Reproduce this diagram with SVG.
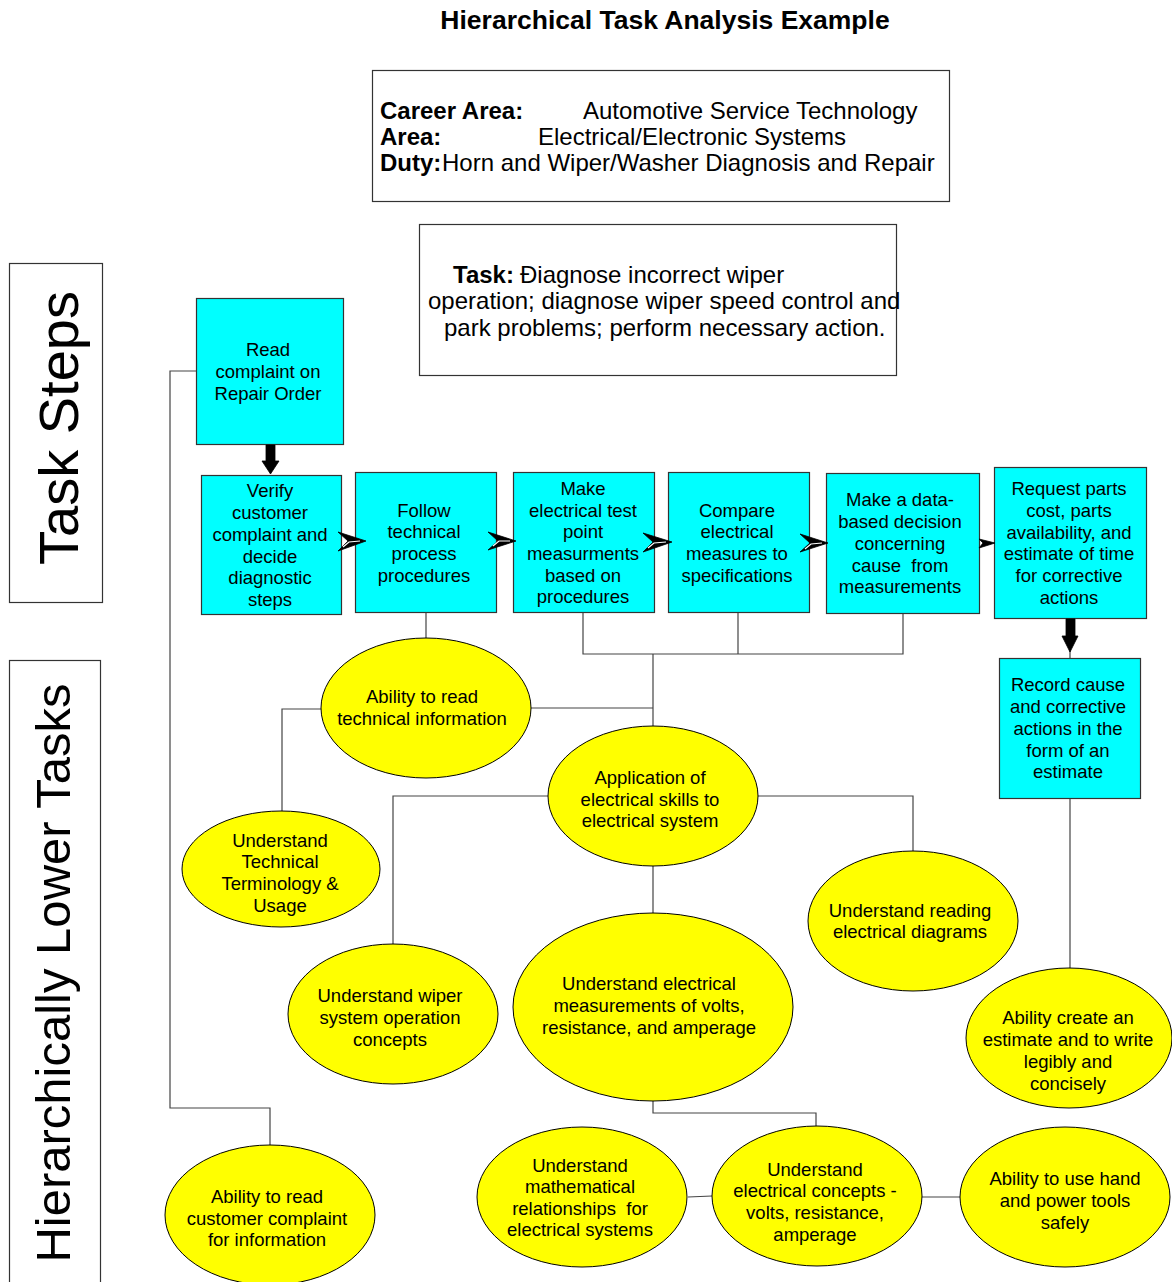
<svg xmlns="http://www.w3.org/2000/svg" width="1172" height="1282" viewBox="0 0 1172 1282">
<style>
text{font-family:"Liberation Sans",Arial,sans-serif;fill:#000}
.t{font-size:18.5px;text-anchor:middle}
.h{font-size:24px}
.b{font-weight:bold}
.box{fill:#00FFFF;stroke:#333;stroke-width:1.2}
.ell{fill:#FFFF00;stroke:#000;stroke-width:1}
.frame{fill:#fff;stroke:#333;stroke-width:1.2}
.con{fill:none;stroke:#444;stroke-width:1.2}
.arr{fill:#000;stroke:#000;stroke-width:0.8}
.hl{fill:none;stroke:#fff;stroke-width:1.2}
</style>
<rect width="1172" height="1282" fill="#fff"/>
<text x="665" y="29" text-anchor="middle" font-size="26.5" font-weight="bold">Hierarchical Task Analysis Example</text>

<g id="header">
<rect class="frame" x="372.5" y="70.5" width="577" height="131"/>
<text class="h b" x="380" y="119">Career Area:</text>
<text class="h" x="583" y="119">Automotive Service Technology</text>
<text class="h b" x="380" y="145">Area:</text>
<text class="h" x="538" y="145">Electrical/Electronic Systems</text>
<text class="h b" x="380" y="171">Duty:</text>
<text class="h" x="442" y="171">Horn and Wiper/Washer Diagnosis and Repair</text>
</g>

<g id="task">
<rect class="frame" x="419.5" y="224.5" width="477" height="151"/>
<text class="h b" x="453" y="283">Task:</text>
<text class="h" x="520" y="283">Điagnose incorrect wiper</text>
<text class="h" x="428" y="309">operation; diagnose wiper speed control and</text>
<text class="h" x="444" y="336">park problems; perform necessary action.</text>
</g>

<g id="label-steps">
<rect class="frame" x="9.5" y="263.5" width="93" height="339"/>
<text x="78" y="428" font-size="56" text-anchor="middle" transform="rotate(-90 78 428)">Task Steps</text>
</g>
<g id="label-lower">
<rect class="frame" x="9.5" y="660.5" width="91" height="630"/>
<text x="70" y="973" font-size="49" text-anchor="middle" transform="rotate(-90 70 973)">Hierarchically Lower Tasks</text>
</g>

<g id="connectors">
<path class="con" d="M196,371 H170 V1108 H270 V1145"/>
<path class="con" d="M426,612 V638"/>
<path class="con" d="M583,612 V654 H903 V613"/>
<path class="con" d="M738,612 V654"/>
<path class="con" d="M653,654 V726"/>
<path class="con" d="M531,708 H653"/>
<path class="con" d="M321,709 H282 V811"/>
<path class="con" d="M548,796 H393 V944"/>
<path class="con" d="M758,796 H913 V851"/>
<path class="con" d="M653,866 V913"/>
<path class="con" d="M653,1101 V1113 H816 V1126"/>
<path class="con" d="M688,1197 L712,1196"/>
<path class="con" d="M922,1197 H960"/>
<path class="con" d="M1070,798 V968"/>
<path class="con" d="M1070,650 V658"/>
</g>

<g id="n-read"><rect class="box" x="196.5" y="298.5" width="147" height="146"/>
<text class="t" x="268" y="356">Read</text><text class="t" x="268" y="378">complaint on</text><text class="t" x="268" y="400">Repair Order</text></g>

<g id="n-verify"><rect class="box" x="201.5" y="475.5" width="140" height="139"/>
<text class="t" x="270" y="497">Verify</text><text class="t" x="270" y="519">customer</text><text class="t" x="270" y="541">complaint and</text><text class="t" x="270" y="563">decide</text><text class="t" x="270" y="584">diagnostic</text><text class="t" x="270" y="606">steps</text></g>

<g id="n-follow"><rect class="box" x="355.5" y="472.5" width="141" height="140"/>
<text class="t" x="424" y="517">Follow</text><text class="t" x="424" y="538">technical</text><text class="t" x="424" y="560">process</text><text class="t" x="424" y="582">procedures</text></g>

<g id="n-make"><rect class="box" x="513.5" y="472.5" width="141" height="140"/>
<text class="t" x="583" y="495">Make</text><text class="t" x="583" y="517">electrical test</text><text class="t" x="583" y="538">point</text><text class="t" x="583" y="560">measurments</text><text class="t" x="583" y="582">based on</text><text class="t" x="583" y="603">procedures</text></g>

<g id="n-compare"><rect class="box" x="668.5" y="472.5" width="141" height="140"/>
<text class="t" x="737" y="517">Compare</text><text class="t" x="737" y="538">electrical</text><text class="t" x="737" y="560">measures to</text><text class="t" x="737" y="582">specifications</text></g>

<g id="n-decide"><rect class="box" x="826.5" y="473.5" width="153" height="140"/>
<text class="t" x="900" y="506">Make a data-</text><text class="t" x="900" y="528">based decision</text><text class="t" x="900" y="550">concerning</text><text class="t" x="900" y="572" xml:space="preserve">cause  from</text><text class="t" x="900" y="593">measurements</text></g>

<g id="n-request"><rect class="box" x="994.5" y="467.5" width="152" height="151"/>
<text class="t" x="1069" y="495">Request parts</text><text class="t" x="1069" y="517">cost, parts</text><text class="t" x="1069" y="539">availability, and</text><text class="t" x="1069" y="560">estimate of time</text><text class="t" x="1069" y="582">for corrective</text><text class="t" x="1069" y="604">actions</text></g>

<g id="n-record"><rect class="box" x="999.5" y="658.5" width="141" height="140"/>
<text class="t" x="1068" y="691">Record cause</text><text class="t" x="1068" y="713">and corrective</text><text class="t" x="1068" y="735">actions in the</text><text class="t" x="1068" y="757">form of an</text><text class="t" x="1068" y="778">estimate</text></g>

<g id="e-techinfo"><ellipse class="ell" cx="426" cy="708" rx="105" ry="70"/>
<text class="t" x="422" y="703">Ability to read</text><text class="t" x="422" y="725">technical information</text></g>

<g id="e-terminology"><ellipse class="ell" cx="281" cy="869" rx="99" ry="58"/>
<text class="t" x="280" y="847">Understand</text><text class="t" x="280" y="868">Technical</text><text class="t" x="280" y="890">Terminology &amp;</text><text class="t" x="280" y="912">Usage</text></g>

<g id="e-application"><ellipse class="ell" cx="653" cy="796" rx="105" ry="70"/>
<text class="t" x="650" y="784">Application of</text><text class="t" x="650" y="806">electrical skills to</text><text class="t" x="650" y="827">electrical system</text></g>

<g id="e-diagrams"><ellipse class="ell" cx="913" cy="921" rx="105" ry="70"/>
<text class="t" x="910" y="917">Understand reading</text><text class="t" x="910" y="938">electrical diagrams</text></g>

<g id="e-wiper"><ellipse class="ell" cx="393" cy="1014" rx="105" ry="70"/>
<text class="t" x="390" y="1002">Understand wiper</text><text class="t" x="390" y="1024">system operation</text><text class="t" x="390" y="1046">concepts</text></g>

<g id="e-measure"><ellipse class="ell" cx="653" cy="1007" rx="140" ry="94"/>
<text class="t" x="649" y="990">Understand electrical</text><text class="t" x="649" y="1012">measurements of volts,</text><text class="t" x="649" y="1034">resistance, and amperage</text></g>

<g id="e-estimate"><ellipse class="ell" cx="1069" cy="1038" rx="103" ry="70"/>
<text class="t" x="1068" y="1024">Ability create an</text><text class="t" x="1068" y="1046">estimate and to write</text><text class="t" x="1068" y="1068">legibly and</text><text class="t" x="1068" y="1090">concisely</text></g>

<g id="e-customer"><ellipse class="ell" cx="270" cy="1215" rx="105" ry="70"/>
<text class="t" x="267" y="1203">Ability to read</text><text class="t" x="267" y="1225">customer complaint</text><text class="t" x="267" y="1246">for information</text></g>

<g id="e-math"><ellipse class="ell" cx="582" cy="1197" rx="105" ry="70"/>
<text class="t" x="580" y="1172">Understand</text><text class="t" x="580" y="1193">mathematical</text><text class="t" x="580" y="1215" xml:space="preserve">relationships  for</text><text class="t" x="580" y="1236">electrical systems</text></g>

<g id="e-concepts"><ellipse class="ell" cx="817" cy="1196" rx="105" ry="70"/>
<text class="t" x="815" y="1176">Understand</text><text class="t" x="815" y="1197">electrical concepts -</text><text class="t" x="815" y="1219">volts, resistance,</text><text class="t" x="815" y="1241">amperage</text></g>

<g id="e-tools"><ellipse class="ell" cx="1065" cy="1197" rx="105" ry="70"/>
<text class="t" x="1065" y="1185">Ability to use hand</text><text class="t" x="1065" y="1207">and power tools</text><text class="t" x="1065" y="1229">safely</text></g>

<g id="arrows">
<path class="arr" d="M266,445 H275 V461 H279 L270.5,474 L262,461 H266 Z"/>
<path class="arr" d="M1066,619 H1075 V636 H1078 L1070,652 L1062,636 H1066 Z"/>
<path class="arr" d="M338,532 L366,541 L338,551 L348,541 Z"/>
<path class="hl" d="M343,547 L349,542 L360,541"/>
<path class="arr" d="M488,532 L516,541 L488,550 L498,541 Z"/>
<path class="hl" d="M493,546 L499,541 L510,541"/>
<path class="arr" d="M643,533 L672,542 L643,552 L653,542 Z"/>
<path class="hl" d="M648,548 L654,543 L666,542"/>
<path class="arr" d="M800,534 L828,543 L800,552 L810,543 Z"/>
<path class="hl" d="M805,549 L811,544 L822,543"/>
<path class="arr" d="M979,539 L995,543 L979,548 L983,543 Z"/>
</g>
</svg>
